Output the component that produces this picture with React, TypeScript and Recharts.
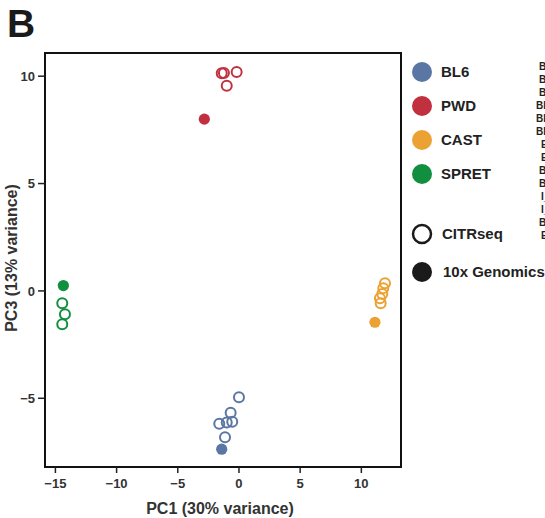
import React from "react";
import { ScatterChart, Scatter, XAxis, YAxis, ReferenceArea } from "recharts";

// strains and their colours
const strains = ["BL6", "PWD", "CAST", "SPRET"];
const strainColors = ["#5a77a3", "#c1303f", "#eba232", "#10903e"];

// CITRseq samples (open circles), PC1 / PC3
const citrBL6 = [
  { x: 0.0, y: -4.95 },
  { x: -0.68, y: -5.67 },
  { x: -1.0, y: -6.13 },
  { x: -0.55, y: -6.09 },
  { x: -1.61, y: -6.19 },
  { x: -1.14, y: -6.81 },
];
const citrPWD = [
  { x: -1.41, y: 10.14 },
  { x: -1.23, y: 10.15 },
  { x: -0.19, y: 10.19 },
  { x: -1.0, y: 9.56 },
];
const citrCAST = [
  { x: 11.93, y: 0.36 },
  { x: 11.79, y: 0.13 },
  { x: 11.71, y: -0.14 },
  { x: 11.52, y: -0.34 },
  { x: 11.58, y: -0.57 },
];
const citrSPRET = [
  { x: -14.44, y: -0.57 },
  { x: -14.22, y: -1.09 },
  { x: -14.44, y: -1.55 },
];

// 10x Genomics samples (filled), one per strain
const tenxBL6 = [{ x: -1.41, y: -7.37 }];
const tenxPWD = [{ x: -2.83, y: 8.0 }];
const tenxCAST = [{ x: 11.11, y: -1.46 }];
const tenxSPRET = [{ x: -14.35, y: 0.25 }];

const citrSets = [citrBL6, citrPWD, citrCAST, citrSPRET];
const tenxSets = [tenxBL6, tenxPWD, tenxCAST, tenxSPRET];

const xTicks = [-15, -10, -5, 0, 5, 10];
const yTicks = [-5, 0, 5, 10];
const xDomain = [-15.85, 13.24];
const yDomain = [-8.2, 11.08];

// sample names cut off at the right edge of the figure
const sideLabels = [
  "BL6_r1", "BL6_r2", "BL6_r3", "BL6_r4", "BL6_r5", "BL6_r6", "E_01",
  "E_02", "B_03", "B_04", "I_05", "I_06", "B_07", "E_08",
];
const sideX = [539, 539, 539, 536, 536, 536, 541, 541, 539, 539, 541, 541, 539, 541];

const font = "'Liberation Sans', Arial, Helvetica, sans-serif";
const minus = (v: number) => String(v).replace("-", "\u2212");

const OpenDot = (color: string) => (p: any) => (
  <circle cx={p.cx} cy={p.cy} r={5} fill="none" stroke={color} strokeWidth={2} />
);
const FilledDot = (color: string) => (p: any) => (
  <circle cx={p.cx} cy={p.cy} r={5.6} fill={color} />
);

export default function App() {
  const tick = { fill: "#333", fontSize: 13, fontWeight: "bold", fontFamily: font };
  return (
    <div style={{ position: "absolute", left: 0, top: 0, width: 545, height: 518, overflow: "hidden", background: "#fff", fontFamily: font }}>
      <ScatterChart width={545} height={518} margin={{ top: 53, right: 144, bottom: 0, left: 0 }}>
        <XAxis
          type="number"
          dataKey="x"
          domain={xDomain}
          ticks={xTicks}
          allowDataOverflow
          height={51}
          axisLine={false}
          tickLine={{ stroke: "#222", strokeWidth: 1.5 }}
          tickSize={6}
          tickMargin={6}
          tick={tick}
          tickFormatter={minus}
          label={{ value: "PC1 (30% variance)", position: "insideBottom", offset: 4, dx: -3, style: { fill: "#333", fontSize: 16, fontWeight: "bold", fontFamily: font } }}
        />
        <YAxis
          type="number"
          dataKey="y"
          domain={yDomain}
          ticks={yTicks}
          allowDataOverflow
          width={45}
          axisLine={false}
          tickLine={{ stroke: "#222", strokeWidth: 1.5 }}
          tickSize={7}
          tickMargin={3}
          tick={tick}
          tickFormatter={minus}
        />
        {citrSets.map((d, i) => (
          <Scatter key={"c" + i} data={d} shape={OpenDot(strainColors[i])} isAnimationActive={false} />
        ))}
        {tenxSets.map((d, i) => (
          <Scatter key={"t" + i} data={d} shape={FilledDot(strainColors[i])} isAnimationActive={false} />
        ))}
        <ReferenceArea
          x1={xDomain[0]}
          x2={xDomain[1]}
          y1={yDomain[0]}
          y2={yDomain[1]}
          fill="none"
          stroke="#111"
          strokeWidth={2}
          ifOverflow="visible"
        />
      </ScatterChart>
      {/* panel letter, y title, legend */}
      <svg width={545} height={518} style={{ position: "absolute", left: 0, top: 0, pointerEvents: "none" }}>
        <text x={7} y={37} fontSize={39} fontWeight="bold" fill="#1a1a1a" fontFamily={font}>B</text>
        <text x={17} y={258} transform="rotate(-90 17 258)" textAnchor="middle" fontSize={16} fontWeight="bold" fill="#333" fontFamily={font}>PC3 (13% variance)</text>
        {strains.map((s, i) => (
          <g key={s}>
            <circle cx={422} cy={72 + i * 34} r={10} fill={strainColors[i]} />
            <text x={441} y={72 + i * 34} dy="0.36em" fontSize={15} fontWeight="bold" fill="#222" fontFamily={font}>{s}</text>
          </g>
        ))}
        <circle cx={422} cy={234} r={9} fill="none" stroke="#1a1a1a" strokeWidth={2.5} />
        <text x={442} y={234} dy="0.36em" fontSize={15} fontWeight="bold" fill="#222" fontFamily={font}>CITRseq</text>
        <circle cx={422} cy={272} r={10} fill="#1a1a1a" />
        <text x={443} y={272} dy="0.36em" fontSize={15} fontWeight="bold" fill="#222" fontFamily={font}>10x Genomics</text>
        {sideLabels.map((t, i) => (
          <text key={i} x={sideX[i]} y={66 + i * 13} dy="0.36em" fontSize={10} fontWeight="bold" fill="#222" fontFamily={font}>{t}</text>
        ))}
      </svg>
    </div>
  );
}
